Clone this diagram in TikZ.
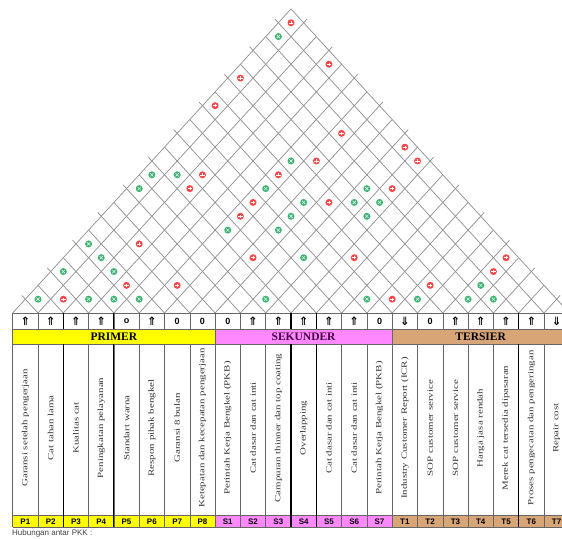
\documentclass[tikz,border=0pt]{standalone}
\usepackage{fontspec}
\setmainfont{Liberation Serif}
\newfontfamily\arialfont{Liberation Sans}
\newfontfamily\djv{DejaVu Sans}
\usepackage{graphicx}
\definecolor{prim}{HTML}{FFFF00}
\definecolor{sek}{HTML}{FF88FF}
\definecolor{ter}{HTML}{D8A577}
\definecolor{gpos}{HTML}{3CB371}
\definecolor{rneg}{HTML}{FF4545}
\definecolor{roofline}{HTML}{8C8C8C}
\definecolor{sektxt}{HTML}{400040}
\begin{document}
\begin{tikzpicture}[x=1pt,y=-1pt,
  roofl/.style={draw=roofline, line width=0.7pt},
  tabl/.style={draw=black!60, line width=0.6pt},
  tabthick/.style={draw=black, line width=1.1pt},
  celltxt/.style={rotate=90, font=\fontsize{8}{8}\selectfont, text=black!80, inner sep=0pt},
  hdr/.style={font=\fontsize{11.5}{12}\selectfont\bfseries, inner sep=0pt},
  codetxt/.style={font=\arialfont\fontsize{8}{8}\selectfont\bfseries, inner sep=0pt},
  symtxt/.style={font=\arialfont\fontsize{9}{9}\selectfont\bfseries, inner sep=0pt},
  posc/.style={circle, fill=gpos, minimum size=7pt, inner sep=0pt,
    path picture={\draw[white, line width=0.45pt]
      ([xshift=-1.6pt,yshift=-1.6pt]path picture bounding box.center) -- ([xshift=1.6pt,yshift=1.6pt]path picture bounding box.center)
      ([xshift=-1.6pt,yshift=1.6pt]path picture bounding box.center) -- ([xshift=1.6pt,yshift=-1.6pt]path picture bounding box.center);}},
  negc/.style={circle, fill=rneg, minimum size=7pt, inner sep=0pt,
    path picture={\draw[white, line width=0.5pt]
      ([xshift=-2.2pt]path picture bounding box.center) -- ([xshift=2.2pt]path picture bounding box.center)
      ([yshift=-1.6pt]path picture bounding box.center) -- ([yshift=1.6pt]path picture bounding box.center);}}
]
\useasboundingbox (0,0) rectangle (562,538);
\clip (0,0) rectangle (562,538);

% ---------- roof grid ----------
\foreach \k in {0,...,22} {
  \pgfmathsetmacro\bx{12.7+\k*25.3}
  \pgfmathsetmacro\ex{isodd(\k)*5}
  \pgfmathsetmacro\xr{\bx+(22-\k)*12.65+\ex*0.675}
  \pgfmathsetmacro\yr{313-(22-\k)*13.82-\ex*0.737}
  \pgfmathsetmacro\xl{\bx-\k*12.65-\ex*0.675}
  \pgfmathsetmacro\yl{313-\k*13.82-\ex*0.737}
  \coordinate (b\k) at (\bx,313);
  \ifnum\k<22 \draw[roofl] (b\k) -- (\xr,\yr); \fi
  \ifnum\k>0 \draw[roofl] (b\k) -- (\xl,\yl); \fi
}

% ---------- correlation symbols ----------
\foreach \i/\j/\c in {1/2/posc,2/3/negc,3/4/posc,4/5/posc,5/6/posc,10/11/posc,14/15/posc,
  15/16/negc,16/17/posc,18/19/posc,19/20/posc,4/6/negc,6/8/negc,16/18/negc,18/20/posc,
  1/4/posc,3/6/posc,18/21/negc,2/6/posc,8/12/negc,10/14/posc,12/16/negc,18/22/negc,
  1/6/posc,3/8/negc,6/12/posc,8/14/posc,6/13/negc,8/15/posc,11/18/posc,6/14/negc,
  8/16/posc,9/17/negc,10/18/posc,11/19/posc,1/10/posc,3/12/negc,6/15/posc,10/19/posc,
  11/20/negc,1/11/posc,2/12/posc,3/13/negc,6/16/negc,6/17/posc,7/18/negc,11/22/negc,
  10/22/negc,7/20/negc,1/16/negc,1/18/negc,4/22/negc,1/21/posc,1/22/negc} {
  \pgfmathsetmacro\xx{12.7+((\i+\j)/2-0.5)*25.3}
  \pgfmathsetmacro\yy{313-(\j-\i)*13.82}
  \node[\c] (s\i-\j) at (\xx,\yy) {};
}

% ---------- table fills ----------
\fill[prim] (b0 |- 0,329) rectangle (b8 |- 0,344);
\fill[sek] (b8 |- 0,329) rectangle (b15 |- 0,344);
\fill[ter] (b15 |- 0,329) rectangle (b22 |- 0,344);
\fill[prim] (b0 |- 0,515) rectangle (b8 |- 0,527);
\fill[sek] (b8 |- 0,515) rectangle (b15 |- 0,527);
\fill[ter] (b15 |- 0,515) rectangle (b22 |- 0,527);

% ---------- table lines ----------
\foreach \yy in {313,329,344,515,527} {
  \draw[tabl] (b0 |- 0,\yy) -- (b22 |- 0,\yy);
}
\foreach \k in {0,...,22} {
  \draw[tabl] (b\k) -- (b\k |- 0,329);
  \draw[tabl] (b\k |- 0,344) -- (b\k |- 0,527);
}
\foreach \k in {0,8,15,22} {
  \draw[tabl] (b\k |- 0,329) -- (b\k |- 0,344);
}
\foreach \k in {2,4,11,12,20} {
  \draw[tabthick] (b\k) -- (b\k |- 0,329);
  \draw[tabthick] (b\k |- 0,344) -- (b\k |- 0,527);
}

% ---------- direction row ----------
\foreach \n/\s in {1/U,2/U,3/U,4/U,5/o,6/U,7/0,8/0,9/0,10/U,11/U,12/U,13/U,14/U,15/0,
  16/D,17/0,18/U,19/U,20/U,21/U,22/D} {
  \pgfmathsetmacro\cx{12.7+(\n-0.5)*25.3}
  \node[symtxt] (d\n) at (\cx,321) {\if U\s{\djv\fontsize{11.5}{11.5}\selectfont\bfseries ⇑}\else\if D\s{\djv\fontsize{11.5}{11.5}\selectfont\bfseries ⇓}\else\s\fi\fi};
}

% ---------- headers ----------
\node[hdr] (hp) at (113.9,336.5) {PRIMER};
\node[hdr, text=sektxt] (hs) at (303.6,336.5) {SEKUNDER};
\node[hdr] (ht) at (480.7,336.5) {TERSIER};

% ---------- vertical texts ----------
\foreach \n/\t in {1/{Garansi setelah pengerjaan},2/{Cat tahan lama},3/{Kualitas cat},
  4/{Peningkatan pelayanan},5/{Standart warna},6/{Respon pihak bengkel},7/{Garansi 8 bulan},
  8/{Ketepatan dan kecepatan pengerjaan},9/{Perintah Kerja Bengkel (PKB)},
  10/{Cat dasar dan cat inti},11/{Campuran thinner dan top coating},12/{Overlapping},
  13/{Cat dasar dan cat inti},14/{Cat dasar dan cat inti},15/{Perintah Kerja Bengkel (PKB)},
  16/{Industry Customer Report (ICR)},17/{SOP customer service},18/{SOP customer service},
  19/{Harga jasa rendah},20/{Merek cat tersedia dipasaran},21/{Proses pengecatan dan pengeringan},
  22/{Repair cost}} {
  \pgfmathsetmacro\cx{12.7+(\n-0.5)*25.3}
  \node[celltxt] (t\n) at (\cx,428) {\scalebox{1.36}[1]{\t}};
}

% ---------- codes ----------
\foreach \n/\c in {1/P1,2/P2,3/P3,4/P4,5/P5,6/P6,7/P7,8/P8,9/S1,10/S2,11/S3,12/S4,13/S5,
  14/S6,15/S7,16/T1,17/T2,18/T3,19/T4,20/T5,21/T6,22/T7} {
  \pgfmathsetmacro\cx{12.7+(\n-0.5)*25.3}
  \node[codetxt] (c\n) at (\cx,521.3) {\c};
}

\node[anchor=west, inner sep=0pt, font=\arialfont\fontsize{8}{8}\selectfont, text=black!75] (hub) at (12,533) {Hubungan antar PKK :};
\end{tikzpicture}
\end{document}
